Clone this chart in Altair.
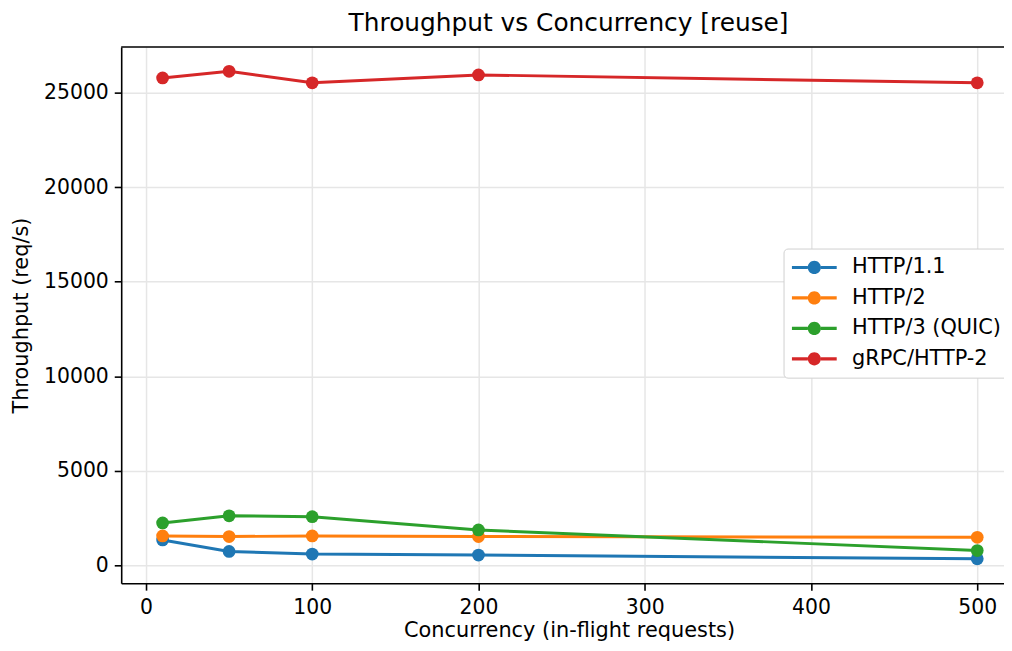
import altair as alt
import pandas as pd

concurrency = [10, 50, 100, 200, 500]
protocols = ["HTTP/1.1", "HTTP/2", "HTTP/3 (QUIC)", "gRPC/HTTP-2"]
http11 = [1330, 720, 580, 530, 330]
http2 = [1540, 1510, 1540, 1510, 1470]
http3 = [2230, 2610, 2560, 1860, 770]
grpc = [25790, 26140, 25530, 25950, 25530]
colors = ["#1f77b4", "#ff7f0e", "#2ca02c", "#d62728"]
x_ticks = [0, 100, 200, 300, 400, 500]
y_ticks = [0, 5000, 10000, 15000, 20000, 25000]

rows = []
for i, (name, vals) in enumerate(zip(protocols, [http11, http2, http3, grpc])):
    for c, v in zip(concurrency, vals):
        rows.append({"protocol": name, "order": i, "concurrency": c, "throughput": v})
df = pd.DataFrame(rows)

W, H = 889, 540
FONT = "DejaVu Sans"

xenc = alt.X("concurrency:Q", scale=alt.Scale(domain=[-14.9, 516.1], nice=False, zero=False),
             axis=alt.Axis(values=x_ticks, title="Concurrency (in-flight requests)", format="d",
                           titlePadding=1, labelPadding=8, titleX=451))
yenc = alt.Y("throughput:Q", scale=alt.Scale(domain=[-960, 27430], nice=False, zero=False),
             axis=alt.Axis(values=y_ticks, title="Throughput (req/s)", format="d",
                           titlePadding=12, labelPadding=6))

cscale = alt.Scale(domain=protocols, range=colors)

sym_path = ("M-0.96,-0.14L0.49,-0.14L0.49,0.14L-0.96,0.14Z "
            "M1.69,-0.14L3.14,-0.14L3.14,0.14L1.69,0.14Z "
            "M1.69,0A0.6,0.6 0 1,1 0.49,0A0.6,0.6 0 1,1 1.69,0Z")

legend = alt.Legend(
    title=None, orient="none", legendX=667, legendY=203,
    symbolType=sym_path, symbolSize=484, symbolStrokeWidth=0, symbolOpacity=1,
    labelFont=FONT, labelFontSize=21, labelColor="#000000",
    labelOffset=39, rowPadding=9.7, padding=8,
    strokeColor="#d0d0d0", fillColor="#ffffff", cornerRadius=4,
)

lines = alt.Chart(df).mark_line(strokeWidth=3).encode(
    x=xenc, y=yenc,
    color=alt.Color("protocol:N", scale=cscale, legend=legend),
    order="concurrency:Q",
)

points = alt.Chart(df).mark_point(filled=True, size=165, opacity=1).encode(
    x=xenc, y=yenc,
    color=alt.Color("protocol:N", scale=cscale, legend=legend),
)

top = alt.Chart(pd.DataFrame({"a": [0]})).mark_rule(color="#000000", strokeWidth=1.6).encode(
    x=alt.value(0), x2=alt.value(W), y=alt.value(0)
)

chart = alt.layer(lines, points, top).properties(
    width=W, height=H,
    autosize=alt.AutoSizeParams(type="none"),
    padding={"left": 114, "top": 37, "right": 0, "bottom": 58},
    title=alt.TitleParams("Throughput vs Concurrency [reuse]", font=FONT, fontSize=25,
                          fontWeight="normal", color="#000000", dx=6, offset=10,
                          frame="group"),
).configure_view(stroke=None).configure_axis(
    domainColor="#000000", domainWidth=1.6, tickColor="#000000", tickWidth=1.6, tickSize=7,
    gridColor="#e6e6e6", gridWidth=1.5, labelFont=FONT, labelFontSize=20.5, labelColor="#000000",
    titleFont=FONT, titleFontSize=21, titleFontWeight="normal", titleColor="#000000",
)

chart.save("out.html", embed_options={"renderer": "svg", "actions": False})
